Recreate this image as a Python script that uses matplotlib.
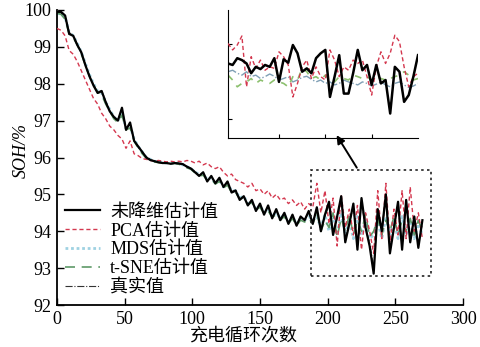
import matplotlib
matplotlib.use("Agg")
import matplotlib.pyplot as plt
from matplotlib.patches import Rectangle

# ---------------- data (main plot, every 3 cycles) ----------------
cycles = list(range(0, 271, 3))

soh_full = [99.95, 99.95, 99.85, 99.35, 99.3, 99.05, 98.85, 98.5, 98.2, 97.95,
            97.75, 97.8, 97.5, 97.25, 97.1, 97.0, 97.35, 96.75, 96.95, 96.45,
            96.3, 96.15, 96.0, 95.93, 95.9, 95.87, 95.85, 95.85, 95.83, 95.85,
            95.84, 95.82, 95.75, 95.7, 95.6, 95.5, 95.6, 95.35, 95.5, 95.3,
            95.45, 95.2, 95.35, 95.05, 95.1, 94.85, 94.95, 94.7, 94.85, 94.55,
            94.75, 94.45, 94.7, 94.35, 94.6, 94.3, 94.5, 94.2, 94.45, 94.15,
            94.4, 94.3, 94.55, 94.2, 94.65, 94.0, 94.45, 94.8, 93.9, 94.4,
            94.95, 93.7, 94.2, 94.75, 93.5, 94.9, 94.1, 93.6, 92.85, 94.6,
            94.0, 95.0, 93.4, 94.1, 94.8, 93.5, 94.85, 93.7, 94.4, 93.55, 94.3]

soh_pca = [99.5, 99.45, 99.3, 98.9, 98.8, 98.6, 98.35, 98.1, 97.85, 97.6,
           97.45, 97.2, 97.05, 96.85, 96.75, 96.6, 96.5, 96.25, 96.45, 96.1,
           96.05, 95.97, 95.95, 95.92, 95.9, 95.92, 95.9, 95.88, 95.9, 95.88,
           95.9, 95.88, 95.92, 95.9, 95.85, 95.9, 95.8, 95.85, 95.75, 95.7,
           95.75, 95.6, 95.5, 95.55, 95.4, 95.35, 95.3, 95.2, 95.3, 95.1,
           95.15, 95.0, 95.1, 94.9, 95.0, 94.85, 94.9, 94.75, 94.85, 94.7,
           94.8, 94.6, 94.75, 94.65, 95.3, 94.5, 95.1, 94.2, 94.9, 93.6,
           95.0, 94.1, 94.6, 93.9, 94.7, 93.5, 94.5, 94.0, 93.4, 95.1,
           93.8, 95.3, 93.7, 94.6, 93.9, 95.1, 93.8, 95.2, 94.0, 94.5, 93.8]

soh_mds = [99.9, 99.9, 99.8, 99.4, 99.3, 99.1, 98.85, 98.55, 98.25, 98.0,
           97.8, 97.75, 97.5, 97.3, 97.1, 97.0, 97.2, 96.8, 96.85, 96.5,
           96.3, 96.15, 96.0, 95.95, 95.9, 95.88, 95.86, 95.85, 95.84, 95.85,
           95.83, 95.8, 95.75, 95.7, 95.6, 95.55, 95.55, 95.4, 95.45, 95.3,
           95.4, 95.2, 95.3, 95.1, 95.1, 94.9, 94.95, 94.75, 94.8, 94.6,
           94.7, 94.5, 94.6, 94.4, 94.5, 94.35, 94.45, 94.25, 94.4, 94.2,
           94.35, 94.3, 94.4, 94.3, 94.4, 94.1, 94.45, 94.0, 94.4, 93.9,
           94.5, 93.9, 94.3, 93.8, 94.4, 93.9, 94.3, 93.8, 93.9, 94.3,
           93.8, 94.4, 93.9, 94.3, 93.8, 94.4, 93.9, 94.3, 93.8, 94.2, 93.9]

soh_tsne = [99.92, 99.88, 99.75, 99.35, 99.25, 99.05, 98.8, 98.5, 98.2, 97.95,
            97.78, 97.7, 97.45, 97.25, 97.05, 96.95, 97.15, 96.75, 96.8, 96.45,
            96.25, 96.1, 95.98, 95.92, 95.88, 95.86, 95.85, 95.84, 95.83, 95.84,
            95.82, 95.78, 95.72, 95.68, 95.58, 95.5, 95.52, 95.38, 95.42, 95.28,
            95.35, 95.18, 95.25, 95.05, 95.05, 94.88, 94.9, 94.72, 94.78, 94.58,
            94.65, 94.48, 94.55, 94.38, 94.45, 94.3, 94.4, 94.2, 94.35, 94.15,
            94.3, 94.25, 94.35, 94.2, 94.5, 94.0, 94.3, 94.1, 94.5, 93.85,
            94.35, 94.0, 94.45, 93.9, 94.3, 94.0, 94.45, 93.85, 94.0, 94.35,
            93.9, 94.3, 94.0, 94.4, 93.9, 94.3, 94.0, 94.35, 93.9, 94.3, 94.0]

soh_true = [100.0, 99.92, 99.82, 99.4, 99.28, 99.08, 98.82, 98.52, 98.22, 97.98,
            97.77, 97.82, 97.52, 97.27, 97.08, 97.02, 97.3, 96.78, 96.9, 96.47,
            96.28, 96.13, 96.02, 95.95, 95.9, 95.88, 95.86, 95.84, 95.84, 95.84,
            95.83, 95.8, 95.76, 95.7, 95.62, 95.52, 95.58, 95.38, 95.48, 95.32,
            95.42, 95.22, 95.32, 95.08, 95.12, 94.88, 94.92, 94.72, 94.82, 94.58,
            94.72, 94.48, 94.66, 94.38, 94.56, 94.33, 94.48, 94.22, 94.42, 94.18,
            94.38, 94.32, 94.5, 94.25, 94.6, 94.05, 94.4, 94.7, 93.95, 94.35,
            94.85, 93.8, 94.25, 94.65, 93.6, 94.8, 94.05, 93.7, 93.0, 94.5,
            94.05, 94.9, 93.5, 94.15, 94.7, 93.6, 94.75, 93.8, 94.35, 93.65, 94.2]

# ---------------- data (inset, cycles 229-270) ----------------
inset_cycles = list(range(229, 271))
inset_full = [94.48, 94.44, 94.62, 94.57, 94.48, 94.22, 94.39, 94.33, 94.44, 94.39,
              94.62, 93.99, 94.59, 94.50, 94.97, 94.75, 94.26, 94.35, 94.22, 94.62,
              94.75, 94.84, 93.59, 94.13, 94.70, 93.68, 93.68, 94.22, 94.84, 94.30,
              94.44, 93.91, 94.44, 93.95, 94.04, 93.15, 94.39, 94.26, 93.46, 93.64,
              94.13, 94.70]
inset_pca = [95.01, 94.84, 94.97, 95.21, 93.86, 94.66, 94.35, 94.57, 94.30, 94.39,
             94.35, 94.79, 94.66, 94.44, 93.59, 93.95, 94.39, 94.57, 94.08, 94.39,
             94.13, 94.04, 94.84, 94.57, 94.13, 94.39, 94.30, 94.57, 94.48, 94.57,
             94.13, 93.64, 94.39, 94.79, 94.48, 94.75, 95.23, 95.06, 94.39, 93.86,
             94.13, 94.22]
inset_mds = [94.26, 94.30, 94.22, 94.17, 94.26, 94.13, 94.17, 94.08, 94.13, 94.20,
             94.14, 94.04, 94.08, 94.13, 93.99, 94.04, 94.11, 94.14, 94.06, 93.99,
             94.04, 93.95, 93.99, 93.91, 93.95, 94.04, 93.99, 93.95, 93.91, 93.99,
             93.95, 93.88, 93.93, 93.99, 93.91, 93.86, 93.95, 93.99, 93.91, 93.84,
             93.88, 93.95]
inset_tsne = [94.17, 94.04, 93.86, 93.95, 93.99, 94.08, 93.95, 94.04, 93.99, 93.95,
              94.04, 93.99, 93.95, 93.86, 94.13, 94.04, 94.35, 94.26, 94.08, 94.13,
              94.04, 94.17, 94.04, 93.99, 94.13, 94.08, 94.04, 94.17, 94.13, 94.08,
              94.13, 94.04, 94.13, 94.08, 94.04, 94.08, 94.13, 94.17, 94.26, 94.17,
              94.04, 94.08]

labels = ["未降维估计值", "PCA估计值", "MDS估计值", "t-SNE估计值", "真实值"]
x_ticks = [0, 50, 100, 150, 200, 250, 300]
y_ticks = [92, 93, 94, 95, 96, 97, 98, 99, 100]

# ---------------- styles ----------------
C_RED = "#d4384f"
C_MDS = "#9fd2e2"
C_TSNE = "#5f9a68"
MIX = ["Liberation Serif", "Noto Sans CJK SC"]
plt.rcParams["font.family"] = MIX
plt.rcParams["axes.unicode_minus"] = False

fig = plt.figure(figsize=(4.8, 3.47), dpi=100)
ax = fig.add_axes([57 / 480, 1 - 305 / 347, 406 / 480, 295 / 347])

ax.plot(cycles, soh_mds, color=C_MDS, lw=2.0, ls=(0, (1, 1)), label=labels[2], zorder=2)
ax.plot(cycles, soh_tsne, color=C_TSNE, lw=1.2, ls=(0, (6, 4)), label=labels[3], zorder=2)
ax.plot(cycles, soh_pca, color=C_RED, lw=1.0, ls=(0, (3, 2)), label=labels[1], zorder=3)
ax.plot(cycles, soh_true, color="#333333", lw=0.8, ls="-.", label=labels[4], zorder=3)
ax.plot(cycles, soh_full, color="black", lw=1.6, label=labels[0], zorder=4)

ax.set_xlim(0, 300)
ax.set_ylim(92, 100)
ax.set_xticks(x_ticks)
ax.set_yticks(y_ticks)
ax.tick_params(direction="in", length=5, width=1, labelsize=13, pad=4)
for s in ["top", "right"]:
    ax.spines[s].set_visible(False)
for s in ["left", "bottom"]:
    ax.spines[s].set_linewidth(1.3)

ax.set_ylabel("SOH/%", fontsize=13, style="italic", family=MIX)
ax.yaxis.set_label_coords(-0.066, 0.525)
ax.set_xlabel("充电循环次数", fontsize=13, family=MIX)
ax.xaxis.set_label_coords(0.458, -0.075)

handles, labs = ax.get_legend_handles_labels()
order = [labs.index(l) for l in labels]
leg = ax.legend([handles[i] for i in order], [labs[i] for i in order],
                loc="upper left", bbox_to_anchor=(0.02, 0.343), frameon=False,
                borderaxespad=0, borderpad=0, handlelength=1.95, handletextpad=0.55,
                labelspacing=0.1, prop={"family": MIX, "size": 13})

# dotted zoom box
ax.add_patch(Rectangle((188, 92.79), 88, 2.87, fill=False, ls=(0, (1.5, 2)),
                       lw=1.2, color="#222222", zorder=5))

# arrow toward inset
ax.annotate("", xy=(205.5, 96.67), xytext=(222.6, 95.66),
            arrowprops=dict(arrowstyle="-|>", color="black", lw=1.4,
                            mutation_scale=12), annotation_clip=False)

# ---------------- inset ----------------
axi = fig.add_axes([228 / 480, 1 - 138 / 347, 190 / 480, 128 / 347])
axi.set_facecolor("none")
axi.plot(inset_cycles, inset_mds, color="#7f9fb5", lw=1.0, ls="-.", zorder=2)
axi.plot(inset_cycles, inset_tsne, color="#8cc06e", lw=1.2, ls=(0, (4, 4)), zorder=2)
axi.plot(inset_cycles, inset_pca, color=C_RED, lw=1.0, ls=(0, (3, 2)), zorder=3)
axi.plot(inset_cycles, inset_full, color="black", lw=1.8, zorder=4)
axi.set_xlim(229, 270)
axi.set_ylim(92.5, 95.9)
axi.set_xticks([240, 250, 260])
axi.set_yticks([93.0, 95.0])
axi.tick_params(direction="in", length=3, labelbottom=False, labelleft=False)
for s in ["top", "right"]:
    axi.spines[s].set_visible(False)

fig.savefig("out.png", dpi=100)
